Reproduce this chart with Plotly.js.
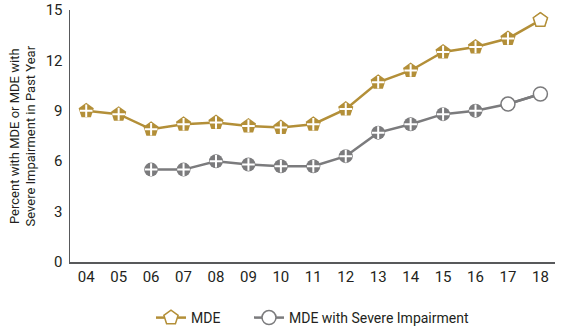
<!DOCTYPE html>
<html>
<head>
<meta charset="utf-8">
<script src="https://cdn.plot.ly/plotly-3.0.1.min.js"></script>
<style>html,body{margin:0;padding:0;background:#fff;}#chart{width:564px;height:333px;}</style>
</head>
<body>
<div id="chart"></div>
<script>
var years = ['04','05','06','07','08','09','10','11','12','13','14','15','16','17','18'];
var mde = [9.0, 8.8, 7.9, 8.2, 8.3, 8.1, 8.0, 8.2, 9.1, 10.7, 11.4, 12.5, 12.8, 13.3, 14.4];
var severeYears = ['06','07','08','09','10','11','12','13','14','15','16','17','18'];
var severe = [5.5, 5.5, 6.0, 5.8, 5.7, 5.7, 6.3, 7.7, 8.2, 8.8, 9.0, 9.4, 10.0];
var yTicks = [0, 3, 6, 9, 12, 15];
var yTitle = 'Percent with MDE or MDE with<br>Severe Impairment in Past Year';
var mdeOpenFrom = 14;      // index in mde from which markers are open
var severeOpenFrom = 11;   // index in severe from which markers are open

var GOLD = '#b38f38';
var GRAY = '#7b7b7d';
var FONT = 'Roboto, "Liberation Sans", Arial, sans-serif';

var traces = [
  {x: years, y: mde, mode: 'lines+markers', showlegend: false, hoverinfo: 'skip',
   line: {color: GOLD, width: 2.5},
   marker: {symbol: 'pentagon', size: 16, color: GOLD, line: {width: 0}}},
  {x: years.slice(mdeOpenFrom), y: mde.slice(mdeOpenFrom), mode: 'lines+markers', name: 'MDE', legend: 'legend',
   line: {color: GOLD, width: 2.5},
   marker: {symbol: 'pentagon', size: 15, color: '#ffffff', line: {color: GOLD, width: 1.5}}},
  {x: years.slice(0, mdeOpenFrom), y: mde.slice(0, mdeOpenFrom), mode: 'markers', showlegend: false, hoverinfo: 'skip',
   marker: {symbol: 'cross-thin', size: 9, color: '#ffffff', line: {color: '#ffffff', width: 2}}},
  {x: severeYears, y: severe, mode: 'lines+markers', showlegend: false, hoverinfo: 'skip',
   line: {color: GRAY, width: 2.5},
   marker: {symbol: 'circle', size: 14, color: GRAY, line: {width: 0}}},
  {x: severeYears.slice(severeOpenFrom), y: severe.slice(severeOpenFrom), mode: 'lines+markers', name: 'MDE with Severe Impairment', legend: 'legend2',
   line: {color: GRAY, width: 2.5},
   marker: {symbol: 'circle', size: 14, color: '#ffffff', line: {color: GRAY, width: 1.5}}},
  {x: severeYears.slice(0, severeOpenFrom), y: severe.slice(0, severeOpenFrom), mode: 'markers', showlegend: false, hoverinfo: 'skip',
   marker: {symbol: 'cross-thin', size: 9, color: '#ffffff', line: {color: '#ffffff', width: 2}}}
];

var legendFont = {family: FONT, size: 14, color: '#231f20'};
var layout = {
  width: 564, height: 333,
  margin: {l: 70, r: 9, t: 10, b: 71, autoexpand: false},
  paper_bgcolor: '#ffffff', plot_bgcolor: '#ffffff',
  font: {family: FONT, size: 15, color: '#231f20'},
  showlegend: true,
  legend: {orientation: 'h', xref: 'container', yref: 'container', x: 151 / 564, xanchor: 'left',
           y: 15 / 333, yanchor: 'middle', font: legendFont, bgcolor: 'rgba(0,0,0,0)'},
  legend2: {orientation: 'h', xref: 'container', yref: 'container', x: 249 / 564, xanchor: 'left',
            y: 15 / 333, yanchor: 'middle', font: legendFont, bgcolor: 'rgba(0,0,0,0)'},
  xaxis: {type: 'category', categoryorder: 'array', categoryarray: years,
          range: [-0.5, 14.45], showgrid: false, zeroline: false,
          showline: true, linecolor: '#58595b', linewidth: 1.5, ticks: '',
          tickfont: {family: FONT, size: 15, color: '#231f20'}, fixedrange: true},
  yaxis: {range: [0, 15], tickvals: yTicks, showgrid: false, zeroline: false,
          showline: true, linecolor: '#58595b', linewidth: 1.5, ticks: '', ticklen: 0, ticklabelstandoff: 3,
          tickfont: {family: FONT, size: 15, color: '#231f20'}},
  annotations: [{text: yTitle, xref: 'paper', yref: 'paper', x: 0, y: 0.5, xshift: -47.5,
                 xanchor: 'center', yanchor: 'middle', textangle: -90, showarrow: false,
                 font: {family: FONT, size: 13, color: '#231f20'}}]
};

Plotly.newPlot('chart', traces, layout, {displayModeBar: false, staticPlot: true});
</script>
</body>
</html>
